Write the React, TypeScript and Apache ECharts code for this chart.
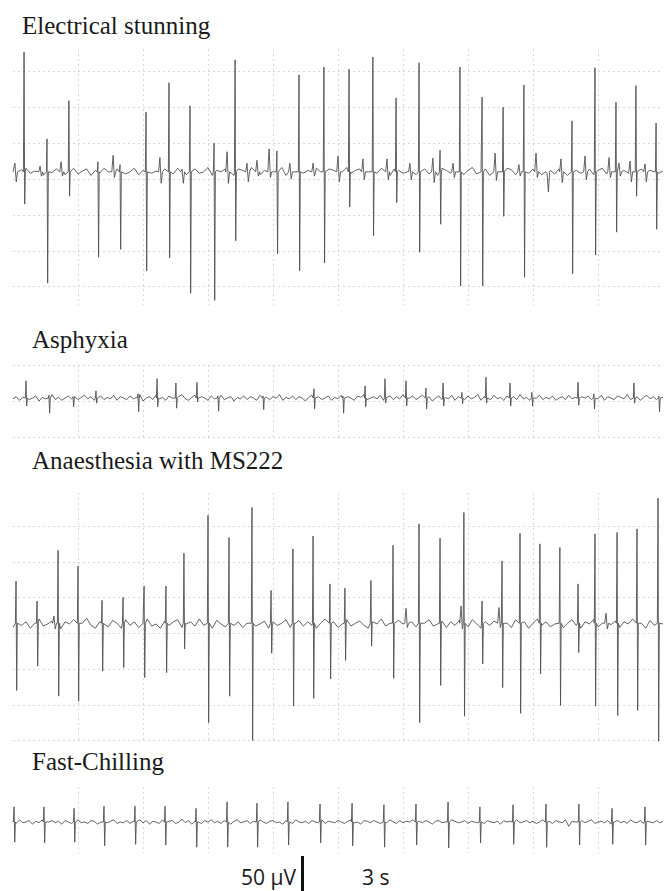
import React, { useEffect, useRef } from "react";
import * as echarts from "echarts";

// ---- time axis (seconds) ----
const TIME_MIN = 0;
const TIME_MAX = 30;
const TIME_TICK = 3;

// ---- Electrical stunning (µV) ----
const stunTitle = "Electrical stunning";
const stunBase = 10;
const stunStep = 0.2;
const stunNoise = [
  10, 6, 13, 15, 8, 11, 16, 5, 12, 9,
  14, 10, 6, 12, 15, 7, 11, 14, 5, 12,
  8, 15, 10, 6, 14, 12, 7, 10, 15, 6,
  12, 16, 8, 11, 5, 14, 12, 7, 15, 10,
  6, 13, 14, 8, 10, 16, 5, 12, 10, 14,
  8, 5, 14, 12, 9, 16, 8, 6, 12, 15,
  10, 7, 16, 5, 12, 10, 14, 8, 12, 6,
  15, 10, 7, 14, 12, 5, 10, 16, 8, 12,
  14, 6, 10, 12, 8, 15, 10, 5, 14, 12,
  8, 10, 16, 6, 12, 14, 7, 10, 5, 15,
  12, 8, 14, 10, 6, 12, 16, 7, 10, 14,
  5, 12, 10, 8, 15, 13, 6, 10, 12, 8,
  14, 16, 6, 10, 12, 7, 14, 10, 5, 15,
  12, 8, 10, 14, 6, 12, 15, 7, 10, 13,
  6, 12, 8, 10, 16, 14, 6, 12, 10, 8,
  11,
];
const stunSpikeT = [0.51, 1.57, 2.58, 3.92, 4.94, 6.14, 7.2, 8.17, 9.28, 10.25, 12.18, 13.2, 14.35, 15.51, 16.61, 17.68, 18.74, 19.71, 20.63, 21.65, 22.62, 23.58, 25.8, 26.86, 27.83, 28.75, 29.68];
const stunSpikeUp = [177, 56, 109, 24, 20, 93, 134, 102, 50, 166, 39, 145, 156, 153, 170, 113, 162, 40, 156, 114, 100, 131, 81, 155, 107, 130, 78];
const stunSpikeDown = [-35, -145, -24, -109, -98, -128, -110, -159, -169, -86, -104, -128, -117, -39, -79, -33, -102, -63, -149, -149, -52, -137, -132, -106, -74, -24, -70];
const stunMinorT = [0.09, 1.25, 2.22, 4.62, 6.78, 7.8, 9.88, 10.8, 11.26, 11.82, 12.78, 13.85, 15.0, 16.15, 17.26, 18.32, 19.38, 20.31, 22.25, 23.35, 24.14, 24.65, 25.29, 26.4, 27.51, 27.97, 28.48, 29.17];
const stunMinorUp = [22, 18, 24, 33, 30, 14, 38, 22, 26, 42, 22, 22, 32, 28, 28, 22, 29, 22, 36, 20, 36, 8, 28, 32, 30, 22, 25, 21];
const stunMinorDown = [-4, 4, 4, 2, -6, -6, -6, -4, 4, 2, 0, 4, -4, -1, -1, -1, -5, 2, -2, 4, 2, -18, -5, -1, 2, 4, -4, -4];

// ---- Asphyxia ----
const asphTitle = "Asphyxia";
const asphBase = 4;
const asphStep = 0.15;
const asphNoise = [
  3, 6, 1, 5, 8, 2, 4, 7, 0, 5, 3, 6, 9, 2, 5, 1, 4, 7, 3, 6,
  2, 5, 8, 3, 6, 1, 4, 7, 2, 5, 3, 8, 1, 6, 4, 2, 7, 3, 5, 9,
  0, 4, 6, 2, 8, 3, 5, 1, 7, 4, 2, 6, 9, 3, 1, 5, 8, 2, 6, 4,
  1, 7, 3, 5, 8, 2, 4, 6, 0, 5, 3, 7, 2, 6, 4, 1, 8, 3, 5, 2,
  6, 4, 9, 1, 5, 3, 7, 2, 6, 4, 0, 5, 8, 3, 6, 2, 4, 7, 1, 5,
  3, 8, 2, 6, 4, 1, 7, 5, 9, 2, 4, 6, 3, 8, 1, 5, 7, 2, 6, 3,
  9, 1, 4, 7, 2, 5, 8, 3, 6, 0, 4, 7, 2, 5, 3, 8, 1, 6, 4, 2,
  7, 3, 5, 9, 1, 6, 4, 2, 8, 3, 5, 1, 7, 4, 6, 2, 9, 3, 5, 1,
  6, 4, 8, 2, 5, 3, 7, 1, 4, 6, 2, 8, 3, 5, 0, 6, 4, 7, 2, 5,
  3, 8, 1, 6, 4, 2, 7, 5, 3, 9, 2, 4, 6, 1, 5, 8, 3, 6, 2, 4,
  5,
];
const asphSpikeT = [0.6, 1.66, 2.77, 3.83, 5.77, 6.65, 7.52, 8.49, 9.46, 11.54, 13.89, 15.23, 16.25, 17.17, 18.14, 19.06, 19.85, 20.72, 21.83, 22.94, 23.95, 26.08, 26.81, 28.66, 29.81];
const asphSpikeUp = [28, 8, 6, 14, 10, 31, 25, 26, 7, 7, 17, 7, 21, 31, 28, 18, 25, 12, 33, 25, 12, 26, 10, 25, 7];
const asphSpikeDown = [-7, -17, -8, -3, -15, -8, -10, -1, -14, -12, -11, -17, -8, -3, -7, -11, -7, -4, -3, -7, -7, -6, -11, -3, -15];

// ---- Anaesthesia with MS222 ----
const msTitle = "Anaesthesia with MS222";
const msBase = 14;
const msStep = 0.2;
const msNoise = [
  8, 18, 11, 16, 7, 14, 20, 10, 13, 17,
  11, 6, 16, 13, 19, 8, 14, 21, 11, 7,
  16, 13, 9, 18, 14, 7, 19, 11, 16, 8,
  14, 20, 10, 13, 7, 17, 11, 16, 19, 8,
  13, 16, 10, 20, 11, 14, 7, 18, 13, 9,
  19, 11, 16, 8, 14, 20, 10, 13, 17, 7,
  16, 11, 14, 19, 8, 13, 18, 10, 16, 11,
  7, 14, 20, 11, 16, 8, 13, 19, 10, 14,
  17, 11, 7, 16, 13, 20, 10, 14, 8, 18,
  13, 11, 16, 9, 7, 14, 19, 10, 13, 17,
  8, 16, 11, 18, 14, 9, 19, 13, 7, 16,
  11, 17, 13, 9, 14, 8, 19, 13, 16, 7,
  14, 20, 11, 16, 9, 13, 18, 8, 14, 19,
  11, 7, 16, 13, 19, 9, 14, 11, 12, 17,
  8, 16, 13, 20, 9, 14, 7, 18, 11, 16,
  13,
];
const msSpikeT = [0.14, 1.11, 2.08, 3.0, 4.11, 5.08, 6.05, 7.06, 7.89, 9.0, 9.97, 11.03, 11.91, 12.92, 13.85, 14.63, 15.32, 16.52, 17.54, 18.74, 19.71, 20.81, 21.65, 22.57, 23.4, 24.32, 25.24, 26.08, 26.86, 27.88, 28.8, 29.77];
const msSpikeUp = [73, 45, 116, 94, 46, 50, 66, 66, 112, 165, 134, 176, 60, 118, 136, 69, 63, 74, 123, 153, 133, 169, 45, 101, 140, 125, 120, 69, 139, 141, 146, 189];
const msSpikeDown = [-80, -46, -88, -95, -53, -48, -62, -55, -22, -125, -88, -150, -28, -102, -91, -64, -38, -18, -63, -125, -73, -116, -43, -76, -112, -57, -101, -27, -102, -115, -108, -151];
const msMinorT = [1.89, 18.14, 20.68, 22.43, 27.37];
const msMinorUp = [24, 35, 38, 36, 28];
const msMinorDown = [6, 8, 6, 8, 6];

// ---- Fast-Chilling ----
const chillTitle = "Fast-Chilling";
const chillBase = 0;
const chillStep = 0.15;
const chillNoise = [
  1, -2, 3, -1, 0, 2, -3, 1, -1, 3, -2, 0, 2, -1, 1, -3, 2, 0, -2, 1,
  3, -1, 0, -2, 2, 1, -3, 0, 2, -1, 1, 3, -2, 0, -1, 2, -2, 1, 0, 3,
  -1, 2, -3, 1, 0, -2, 3, -1, 1, 2, -2, 0, 4, -1, 2, -3, 1, 0, -2, 2,
  0, 3, -1, 1, -2, 2, 0, -3, 1, 3, -1, 0, 2, -2, 1, -1, 3, 0, -2, 1,
  2, -1, 0, -3, 2, 1, -2, 3, 0, -1, 1, -2, 2, 0, -1, 3, -2, 1, 0, -1,
  2, 0, -2, 1, 3, -1, 0, -3, 2, 1, -1, 2, 0, -2, 1, -1, 3, 0, -2, 2,
  -1, 1, 0, 3, -2, 1, -1, 2, 0, -3, 1, 2, -1, 0, -2, 3, 1, -1, 0, 2,
  -2, 1, 0, -1, 3, -2, 2, 0, -1, 1, -3, 2, 0, 1, -2, 3, -1, 0, 2, -1,
  1, -2, 0, 3, -1, 1, -2, 2, 0, -1, 3, -6, 1, 0, -2, 2, -1, 1, 3, -2,
  0, 1, -1, 2, -3, 0, 2, -1, 1, -2, 3, 0, -1, 2, -2, 1, 0, -1, 2, -1,
  1,
];
const chillSpikeT = [0.05, 1.43, 2.82, 4.2, 5.63, 7.02, 8.45, 9.88, 11.26, 12.69, 14.17, 15.65, 17.12, 18.6, 20.08, 21.55, 23.08, 24.6, 26.12, 27.65, 29.17];
const chillSpikeUp = [21, 21, 19, 22, 22, 22, 19, 28, 26, 28, 25, 26, 24, 25, 28, 21, 24, 25, 25, 19, 21];
const chillSpikeDown = [-28, -29, -28, -33, -31, -32, -35, -35, -35, -32, -29, -33, -35, -32, -36, -29, -31, -35, -32, -31, -32];

// ---- scale bar ----
const scaleAmpLabel = "50 \u00B5V";
const scaleAmpValue = 50;
const scaleTimeLabel = "3 s";

type SpikeSet = { t: number[]; up: number[]; down: number[]; w: number };

function buildTrace(noise: number[], step: number, base: number, sets: SpikeSet[]) {
  const windows: [number, number][] = [];
  const pts: { t: number; v: number; o: number }[] = [];
  sets.forEach((s) => {
    s.t.forEach((t, k) => {
      windows.push([t - s.w, t + 2 * s.w]);
      pts.push({ t: t - s.w, v: base, o: 0 });
      pts.push({ t, v: s.up[k], o: 1 });
      pts.push({ t: t + s.w, v: s.down[k], o: 2 });
      pts.push({ t: t + 2 * s.w, v: base, o: 3 });
    });
  });
  noise.forEach((v, i) => {
    const t = +(i * step).toFixed(3);
    if (windows.some(([a, b]) => t >= a - 0.01 && t <= b + 0.01)) return;
    pts.push({ t, v, o: 0 });
  });
  pts.sort((a, b) => a.t - b.t || a.o - b.o);
  return pts.map((p) => [p.t, p.v]);
}

const LEFT = 13;
const PLOT_W = 650;
const MAJOR_W = 0.03;
const MINOR_W = 0.06;

const panels = [
  {
    title: stunTitle, tx: 22, ty: 25, frameTop: 49, frameH: 256, dataTop: 71.3, dataH: 215.4, yMin: -150, yMax: 150, hLines: true,
    trace: buildTrace(stunNoise, stunStep, stunBase, [
      { t: stunSpikeT, up: stunSpikeUp, down: stunSpikeDown, w: MAJOR_W },
      { t: stunMinorT, up: stunMinorUp, down: stunMinorDown, w: MINOR_W },
    ]),
  },
  {
    title: asphTitle, tx: 32, ty: 339, frameTop: 365, frameH: 73, dataTop: 365, dataH: 72, yMin: -50, yMax: 50, hLines: true,
    trace: buildTrace(asphNoise, asphStep, asphBase, [{ t: asphSpikeT, up: asphSpikeUp, down: asphSpikeDown, w: MAJOR_W }]),
  },
  {
    title: msTitle, tx: 32, ty: 460.5, frameTop: 493, frameH: 249, dataTop: 526, dataH: 214.5, yMin: -150, yMax: 150, hLines: true,
    trace: buildTrace(msNoise, msStep, msBase, [
      { t: msSpikeT, up: msSpikeUp, down: msSpikeDown, w: MAJOR_W },
      { t: msMinorT, up: msMinorUp, down: msMinorDown, w: MINOR_W },
    ]),
  },
  {
    title: chillTitle, tx: 32, ty: 761, frameTop: 787, frameH: 66, dataTop: 786, dataH: 72, yMin: -50, yMax: 50, hLines: false,
    trace: buildTrace(chillNoise, chillStep, chillBase, [{ t: chillSpikeT, up: chillSpikeUp, down: chillSpikeDown, w: MAJOR_W }]),
  },
];

const dotted = { color: "#d9d9d9", type: [2, 3] as any, width: 1 };

export default function App() {
  const ref = useRef<HTMLDivElement>(null);
  useEffect(() => {
    if (!ref.current) return;
    const chart = echarts.init(ref.current, null, { renderer: "svg" });
    const grid: any[] = [];
    const xAxis: any[] = [];
    const yAxis: any[] = [];
    const series: any[] = [];
    const graphic: any[] = [];
    panels.forEach((p, i) => {
      const fi = 2 * i;
      const di = 2 * i + 1;
      grid.push({ left: LEFT, width: PLOT_W, top: p.frameTop, height: p.frameH });
      grid.push({ left: LEFT, width: PLOT_W, top: p.dataTop, height: p.dataH });
      xAxis.push({
        gridIndex: fi, type: "value", min: TIME_MIN, max: TIME_MAX, interval: TIME_TICK,
        axisLine: { show: false }, axisTick: { show: false }, axisLabel: { show: false },
        splitLine: { show: true, showMinLine: false, showMaxLine: false, lineStyle: dotted },
      });
      yAxis.push({ gridIndex: fi, type: "value", min: 0, max: 1, show: false });
      xAxis.push({ gridIndex: di, type: "value", min: TIME_MIN, max: TIME_MAX, show: false });
      yAxis.push({
        gridIndex: di, type: "value", min: p.yMin, max: p.yMax, interval: 50,
        axisLine: { show: false }, axisTick: { show: false }, axisLabel: { show: false },
        splitLine: { show: p.hLines, lineStyle: dotted },
      });
      series.push({ type: "line", xAxisIndex: fi, yAxisIndex: fi, data: [], silent: true });
      series.push({
        type: "line", xAxisIndex: di, yAxisIndex: di, data: p.trace,
        showSymbol: false, symbol: "none", clip: false, silent: true, z: 5,
        lineStyle: { color: "#505050", width: 0.9 },
      });
      graphic.push({
        type: "text", x: p.tx, y: p.ty, silent: true,
        style: { text: p.title, fontFamily: "Liberation Serif", fontSize: 25, fill: "#1a1a1a", verticalAlign: "middle", align: "left" },
      });
    });
    const ms = panels[2];
    const barH = (ms.dataH / (ms.yMax - ms.yMin)) * scaleAmpValue;
    graphic.push({ type: "rect", shape: { x: 301, y: 856, width: 3, height: barH }, style: { fill: "#111" }, silent: true });
    graphic.push({ type: "text", x: 241, y: 877, silent: true, style: { text: scaleAmpLabel, fontFamily: "Open Sans", fontSize: 21, fill: "#1a1a1a", verticalAlign: "middle", align: "left" } });
    graphic.push({ type: "text", x: 362, y: 877, silent: true, style: { text: scaleTimeLabel, fontFamily: "Open Sans", fontSize: 21, fill: "#1a1a1a", verticalAlign: "middle", align: "left" } });

    chart.setOption({ animation: false, grid, xAxis, yAxis, series, graphic });
    return () => chart.dispose();
  }, []);
  return <div ref={ref} style={{ position: "fixed", left: 0, top: 0, width: 664, height: 891, background: "#fff" }} />;
}
